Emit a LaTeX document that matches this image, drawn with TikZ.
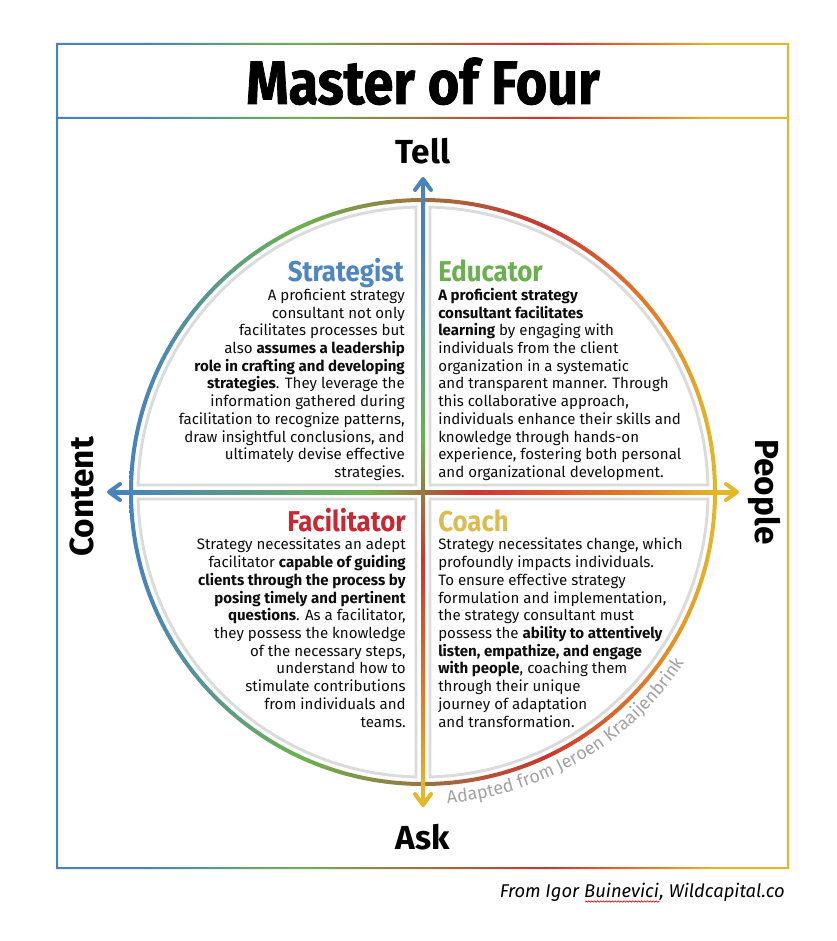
\documentclass[tikz,border=0pt]{standalone}
\usepackage{fontspec}
\setmainfont{Fira Sans}
\newfontfamily\headfont{Fira Sans}[FakeStretch=0.9]
\newfontfamily\titlefont{Fira Sans}[FakeStretch=0.88,FakeBold=1.2]
\usetikzlibrary{arrows.meta,decorations.text,decorations.pathmorphing,calc}
\definecolor{cblue}{RGB}{72,131,192}
\definecolor{cgreen}{RGB}{108,178,78}
\definecolor{cred}{RGB}{204,52,48}
\definecolor{corange}{RGB}{228,125,40}
\definecolor{cyellow}{RGB}{228,183,40}
\definecolor{hblue}{RGB}{79,134,192}
\definecolor{hgreen}{RGB}{106,176,80}
\definecolor{hred}{RGB}{200,40,50}
\definecolor{hgold}{RGB}{220,188,80}
\pgfdeclarehorizontalshading{frameshade}{100bp}{color(0bp)=(cblue); color(30.7bp)=(cblue); color(41.6bp)=(cgreen); color(58.4bp)=(cred); color(65.5bp)=(corange); color(70bp)=(cyellow); color(100bp)=(cyellow)}
\pgfdeclarehorizontalshading{ringshade}{100bp}{color(0bp)=(cblue); color(25.9bp)=(cblue); color(39.5bp)=(cgreen); color(60.4bp)=(cred); color(69.3bp)=(corange); color(74.8bp)=(cyellow); color(100bp)=(cyellow)}
\pgfdeclarehorizontalshading{hshaft}{100bp}{color(0bp)=(cblue); color(25.8bp)=(cblue); color(45.8bp)=(cgreen); color(53.8bp)=(cred); color(67.3bp)=(corange); color(73.7bp)=(cyellow); color(100bp)=(cyellow)}
\pgfdeclareverticalshading{vshaft}{100bp}{color(0bp)=(cyellow); color(26.1bp)=(cyellow); color(33.3bp)=(corange); color(44.5bp)=(cred); color(54.1bp)=(cgreen); color(69.3bp)=(cblue); color(100bp)=(cblue)}
\begin{document}
\begin{tikzpicture}[x=0.75pt,y=-0.75pt,
  ahead/.style={line width=3pt, line cap=round, line join=round},
  quad/.style={draw=black!14, line width=2.2pt},
  body/.style={inner sep=0pt, font=\fontsize{11.3}{13.3}\selectfont, text=black!95},
  qhead/.style={inner sep=0pt, font=\headfont\bfseries\fontsize{21.5}{24}\selectfont},
  axlabel/.style={inner sep=0pt, font=\bfseries\fontsize{25}{28}\selectfont},
  foot/.style={inner sep=0pt, anchor=base east, font=\itshape\fontsize{13.8}{15}\selectfont}]
\useasboundingbox (0,0) rectangle (836,941);
\fill[white] (0,0) rectangle (836,941);
% frame and title separator
\shade[shading=frameshade, even odd rule] (56,43) rectangle (789,869) (58,45) rectangle (787,867) (58,117) rectangle (787,119);
\node[inner sep=0pt, anchor=base, font=\titlefont\bfseries\fontsize{46}{50}\selectfont] (title) at (423,104) {Master of Four};
% geometry
\coordinate (C) at (423,492);
\coordinate (tT) at (423,179);
\coordinate (tB) at (423,805);
\coordinate (tL) at (109,492);
\coordinate (tR) at (737,492);
% quadrant outlines
\draw[quad] (416,485) -- ($(C)+(-91.41:285)$) arc[start angle=-91.41, end angle=-178.59, radius=285] -- cycle;
\draw[quad] (430,485) -- ($(C)+(-88.59:285)$) arc[start angle=-88.59, end angle=-1.41, radius=285] -- cycle;
\draw[quad] (430,499) -- ($(C)+(1.41:285)$) arc[start angle=1.41, end angle=88.59, radius=285] -- cycle;
\draw[quad] (416,499) -- ($(C)+(91.41:285)$) arc[start angle=91.41, end angle=178.59, radius=285] -- cycle;
% ring
\shade[shading=ringshade, even odd rule] (C) circle[radius=294] (C) circle[radius=290];
% axes
\shade[shading=hshaft] ($(tL)+(1,-2)$) rectangle ($(tR)+(-1,2)$);
\shade[shading=vshaft] ($(tT)+(-2,1)$) rectangle ($(tB)+(2,-1)$);
\draw[ahead, cblue] ($(tT)+(-8,11)$) -- (tT) -- ($(tT)+(8,11)$);
\draw[ahead, cyellow] ($(tB)+(-8,-11)$) -- (tB) -- ($(tB)+(8,-11)$);
\draw[ahead, cblue] ($(tL)+(11,-8)$) -- (tL) -- ($(tL)+(11,8)$);
\draw[ahead, cyellow] ($(tR)+(-11,-8)$) -- (tR) -- ($(tR)+(-11,8)$);
% axis labels
\node[axlabel, anchor=base] (tell) at (423,164) {Tell};
\node[axlabel, anchor=base] (ask) at (423,849) {Ask};
\node[axlabel, rotate=90] (content) at (82,497) {Content};
\node[axlabel, rotate=-90] (people) at (764,492) {People};
% quadrant texts
\node[qhead, text=hblue, anchor=base east] (hS) at (404,281) {Strategist};
\node[body, align=right, anchor=north east] (pS) at (405,286.7) {\rule{0pt}{10pt}A proficient strategy\\
consultant not only\\
facilitates processes but\\
also \textbf{assumes a leadership}\\
\textbf{role in crafting and developing}\\
\textbf{strategies}. They leverage the\\
information gathered during\\
facilitation to recognize patterns,\\
draw insightful conclusions, and\\
ultimately devise effective\\
strategies.};
\node[qhead, text=hgreen, anchor=base west] (hE) at (438,281) {Educator};
\node[body, align=left, anchor=north west] (pE) at (438,286.7) {\rule{0pt}{10pt}\textbf{A proficient strategy}\\
\textbf{consultant facilitates}\\
\textbf{learning} by engaging with\\
individuals from the client\\
organization in a systematic\\
and transparent manner. Through\\
this collaborative approach,\\
individuals enhance their skills and\\
knowledge through hands-on\\
experience, fostering both personal\\
and organizational development.};
\node[qhead, text=hred, anchor=base east] (hF) at (406,531) {Facilitator};
\node[body, align=right, anchor=north east] (pF) at (406,536.2) {\rule{0pt}{10pt}Strategy necessitates an adept\\
facilitator \textbf{capable of guiding}\\
\textbf{clients through the process by}\\
\textbf{posing timely and pertinent}\\
\textbf{questions}. As a facilitator,\\
they possess the knowledge\\
of the necessary steps,\\
understand how to\\
stimulate contributions\\
from individuals and\\
teams.};
\node[qhead, text=hgold, anchor=base west] (hC) at (438,531) {Coach};
\node[body, align=left, anchor=north west] (pC) at (438,536.2) {\rule{0pt}{10pt}Strategy necessitates change, which\\
profoundly impacts individuals.\\
To ensure effective strategy\\
formulation and implementation,\\
the strategy consultant must\\
possess the \textbf{ability to attentively}\\
\textbf{listen, empathize, and engage}\\
\textbf{with people}, coaching them\\
through their unique\\
journey of adaptation\\
and transformation.};
% credit along the arc
\path[decorate, decoration={text along path, text color=black!36, text align=left,
  text={|\fontsize{13.5}{13.5}\selectfont|Adapted from Jeroen Kraaijenbrink}}]
  ($(C)+(85.5:312)$) arc[start angle=85.5, end angle=15, radius=312];
% footer
\node[foot] (f3) at (785,897) {, Wildcapital.co};
\node[foot] (f2) at (f3.base west) {Buinevici};
\node[foot] (f1) at ($(f2.base west)+(-4.5,0)$) {From Igor};
\draw[red, line width=0.5pt, decorate, decoration={snake, amplitude=0.5pt, segment length=2.2pt}] ($(f2.base west)+(1,4.5)$) -- ($(f2.base east)+(0,4.5)$);
\end{tikzpicture}
\end{document}
